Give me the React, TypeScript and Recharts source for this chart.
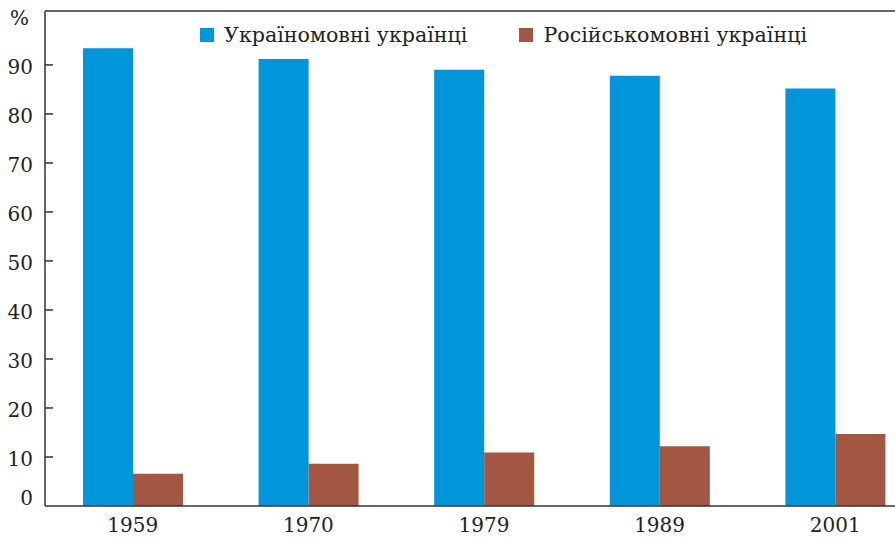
import React from "react";
import { BarChart, Bar, XAxis, YAxis, ReferenceLine } from "recharts";

// Рідна мова українців за переписами (%, зчитано з діаграми)
const YEARS = ["1959", "1970", "1979", "1989", "2001"];
const UKR = [93.4, 91.2, 89.0, 87.8, 85.2];
const RUS = [6.6, 8.6, 10.9, 12.2, 14.7];
const Y_TICKS = [0, 10, 20, 30, 40, 50, 60, 70, 80, 90];
const Y_MAX = 101;
const Y_UNIT = "%";

const SERIES = [
  { key: "ukr", name: "Україномовні українці", color: "#0096d9" },
  { key: "rus", name: "Російськомовні українці", color: "#a35641" },
];

const data = YEARS.map((year, i) => ({ year, ukr: UKR[i], rus: RUS[i] }));

const FONT = "'DejaVu Serif', serif";
const FS = 20;
const INK = "#333";

function YTick({ x, y, payload }: any) {
  const zero = payload.value === 0;
  return (
    <g>
      {!zero && <line x1={x + 12} x2={x + 20} y1={y} y2={y} stroke={INK} strokeWidth={1.5} />}
      <text x={x} y={zero ? y - 8 : y + 2} dy="0.36em" textAnchor="end" fontFamily={FONT} fontSize={FS} fill="#222">
        {payload.value}
      </text>
    </g>
  );
}

// легенда поверх графіка, щоб не зсувала область побудови
function TopLegend() {
  return (
    <div
      style={{
        position: "absolute", left: 200, top: 23, display: "flex", alignItems: "center",
        fontFamily: FONT, fontSize: 20.6, color: "#222", whiteSpace: "nowrap",
      }}
    >
      {SERIES.map((s, i) => (
        <div key={s.key} style={{ display: "flex", alignItems: "center", marginRight: i === 0 ? 52 : 0 }}>
          <span style={{ width: 14, height: 14, background: s.color, display: "inline-block", marginRight: 10 }} />
          <span>{s.name}</span>
        </div>
      ))}
    </div>
  );
}

export default function App() {
  return (
    <div style={{ position: "fixed", left: 0, top: 0, width: 895, height: 538, overflow: "hidden", background: "#fff" }}>
      <BarChart width={923} height={538} data={data} margin={{ top: 11, right: 0, left: 0, bottom: 0 }} barGap={0} barSize={50}>
        <XAxis
          dataKey="year"
          height={32}
          tickLine={false}
          tickMargin={6}
          axisLine={{ stroke: INK, strokeWidth: 1.5 }}
          tick={{ fontFamily: FONT, fontSize: FS, fill: "#222" }}
        />
        <YAxis
          width={45}
          domain={[0, Y_MAX]}
          ticks={Y_TICKS}
          interval={0}
          tickSize={0}
          tickMargin={12}
          axisLine={{ stroke: INK, strokeWidth: 1.5 }}
          tick={<YTick />}
        />
        <ReferenceLine y={Y_MAX} stroke={INK} strokeWidth={1.5} />
        {SERIES.map((s) => (
          <Bar key={s.key} dataKey={s.key} name={s.name} fill={s.color} isAnimationActive={false} />
        ))}
      </BarChart>
      <div style={{ position: "absolute", left: 10, top: 6, fontFamily: FONT, fontSize: FS, color: "#222" }}>{Y_UNIT}</div>
      <TopLegend />
    </div>
  );
}
